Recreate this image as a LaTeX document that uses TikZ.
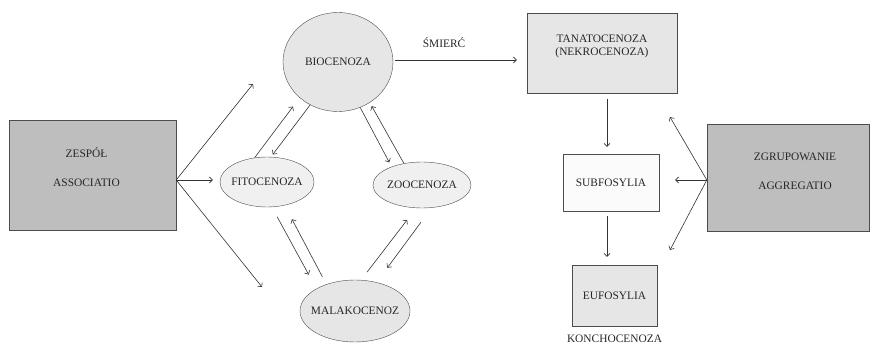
\documentclass[tikz,border=0pt]{standalone}
\usepackage{fontspec}
\setmainfont{Liberation Serif}
\usetikzlibrary{arrows.meta,shapes.geometric,positioning}

\definecolor{filldark}{RGB}{190,190,190}
\definecolor{fillmid}{RGB}{230,230,230}
\definecolor{fillpale}{RGB}{240,240,240}
\definecolor{fillwhite}{RGB}{251,251,251}

\begin{document}
\begin{tikzpicture}[x=1pt, y=-1pt, >={Straight Barb[length=3pt,width=6pt]},
  every node/.style={font=\fontsize{11.4}{13.5}\selectfont, text=black!85},
  bigbox/.style={draw=black!70, fill=filldark, inner sep=0pt},
  cellbox/.style={draw=black!70, inner sep=0pt},
  bubble/.style={ellipse, draw=black!70, inner sep=0pt},
  link/.style={->, draw=black!80, line width=0.6pt}]
  \useasboundingbox (0,0) rectangle (870,344);

  % Left side: association
  \node[bigbox, minimum width=167pt, minimum height=110pt,
    label={[align=center,xshift=-6pt,yshift=8pt]center:ZESPÓŁ\\[16pt]ASSOCIATIO}] (zespol) at (92.5,175) {};

  % Middle: living communities
  \node[bubble, fill=fillmid, minimum width=110pt, minimum height=99pt, label=center:BIOCENOZA] (bio) at (338,62) {};
  \node[bubble, fill=fillpale, minimum width=94pt, minimum height=50pt, label=center:FITOCENOZA] (fito) at (267,182) {};
  \node[bubble, fill=fillpale, minimum width=98pt, minimum height=46pt, label=center:ZOOCENOZA] (zoo) at (422,185) {};
  \node[bubble, fill=fillmid, minimum width=110pt, minimum height=62pt, label=center:MALAKOCENOZ] (mala) at (355,311) {};

  % Right side: dead assemblages
  \node[cellbox, fill=fillmid, minimum width=150pt, minimum height=80pt,
    label={[align=center,yshift=6.5pt]center:TANATOCENOZA\\(NEKROCENOZA)}] (tanato) at (602,53) {};
  \node[cellbox, fill=fillwhite, minimum width=96pt, minimum height=57pt] (subfos) at (611,182.5) {SUBFOSYLIA};
  \node[cellbox, fill=fillmid, minimum width=85pt, minimum height=61pt] (eufo) at (614.5,295.5) {EUFOSYLIA};
  \node[below=5pt of eufo] (koncho) {KONCHOCENOZA};
  \node[bigbox, minimum width=162pt, minimum height=107pt,
    label={[align=center,xshift=7pt,yshift=6pt]center:ZGRUPOWANIE\\[15pt]AGGREGATIO}] (zgrup) at (788,177.5) {};

  % Label
  \node (smierc) at (444,43) {ŚMIERĆ};

  % Free ends
  \coordinate (zs) at ([yshift=-5pt]zespol.east);
  \coordinate (zup) at (253,84);
  \coordinate (zdown) at (262,287);
  \coordinate (zg) at ([yshift=-2.5pt]zgrup.west);
  \coordinate (zgup) at (670,117);
  \coordinate (zgdown) at (670,250);

  % Arrows from ZESPOL
  \draw[link] (zs) -- (zup);
  \draw[link, shorten >=7pt] (zs) -- (zs -| fito.west);
  \draw[link] (zs) -- (zdown);

  % Paired arrows
  \draw[link, shorten >=11pt] (fito.117) -- (bio.223.5);
  \draw[link, shorten >=3pt] (bio.237.5) -- (fito.81);
  \draw[link, shorten >=5pt] (bio.296.6) -- (zoo.149.4);
  \draw[link, shorten >=4pt] (zoo.130.8) -- (bio.308.2);
  \draw[link, shorten <=11pt, shorten >=16pt] (fito.281.3) -- (mala.150.1);
  \draw[link, shorten <=8.5pt, shorten >=15.7pt] (mala.137.8) -- (fito.307.6);
  \draw[link, shorten <=10pt, shorten >=15pt] (mala.79.5) -- (zoo.256);
  \draw[link, shorten <=18pt, shorten >=18pt] (zoo.293) -- (mala.53.2);

  % Death and burial
  \draw[link, shorten <=2pt, shorten >=10pt] ([yshift=2pt]bio.east) -- ([yshift=2pt]bio.east -| tanato.west);
  \draw[link, shorten <=6pt, shorten >=7pt] ([xshift=-4pt]subfos.north |- tanato.south) -- ([xshift=-4pt]subfos.north);
  \draw[link, shorten <=5pt, shorten >=8pt] ([xshift=-4pt]subfos.south) -- ([xshift=-4pt]subfos.south |- eufo.north);

  % Arrows from ZGRUPOWANIE
  \draw[link, shorten >=16pt] (zg) -- (zg -| subfos.east);
  \draw[link] (zg) -- (zgup);
  \draw[link] (zg) -- (zgdown);
\end{tikzpicture}
\end{document}
